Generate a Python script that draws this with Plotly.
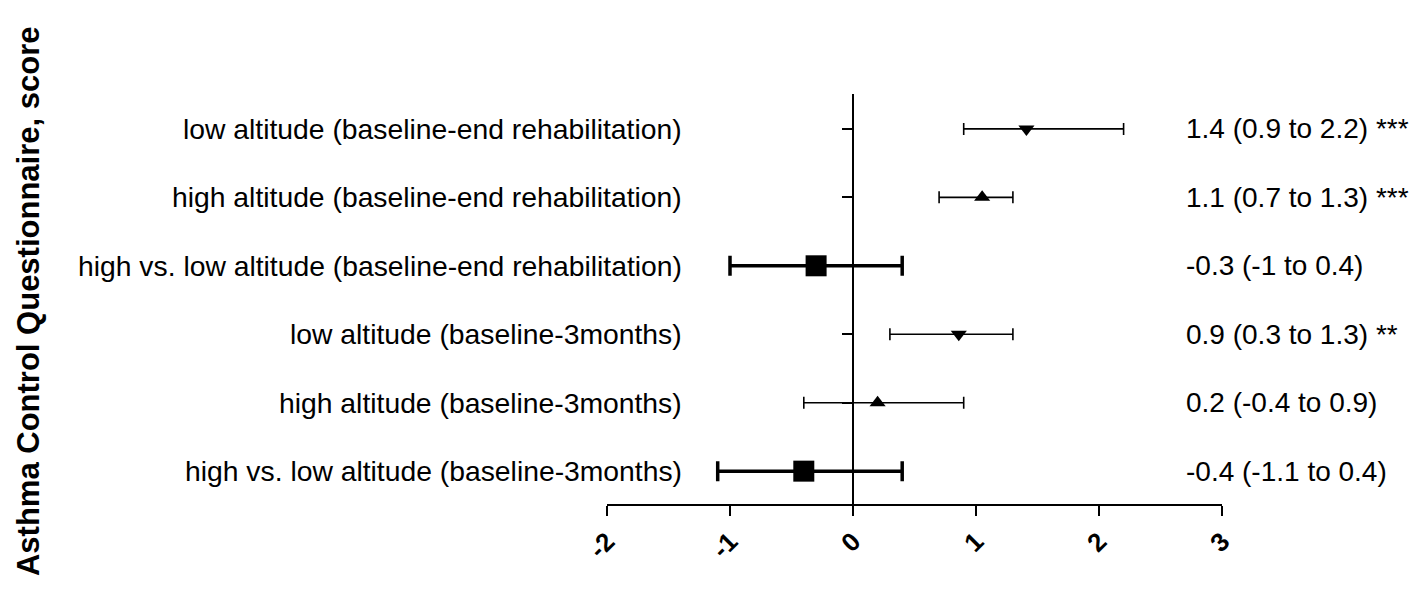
import plotly.graph_objects as go

labels = [
    "low altitude (baseline-end rehabilitation)",
    "high altitude (baseline-end rehabilitation)",
    "high vs. low altitude (baseline-end rehabilitation)",
    "low altitude (baseline-3months)",
    "high altitude (baseline-3months)",
    "high vs. low altitude (baseline-3months)",
]
estimate = [1.41, 1.05, -0.3, 0.86, 0.2, -0.4]
lower = [0.9, 0.7, -1.0, 0.3, -0.4, -1.1]
upper = [2.2, 1.3, 0.4, 1.3, 0.9, 0.4]
result_text = [
    "1.4 (0.9 to 2.2) ***",
    "1.1 (0.7 to 1.3) ***",
    "-0.3 (-1 to 0.4)",
    "0.9 (0.3 to 1.3) **",
    "0.2 (-0.4 to 0.9)",
    "-0.4 (-1.1 to 0.4)",
]
kind = ["low", "high", "diff", "low", "high", "diff"]
row_pos = [6, 5, 4, 3, 2, 1]
x_ticks = [-2, -1, 0, 1, 2, 3]

FONT = "Liberation Sans, Arial, sans-serif"
styles = {
    "low": dict(symbol="triangle-down", size=14, lw=1.6, cap=6),
    "high": dict(symbol="triangle-up", size=14, lw=1.6, cap=6),
    "diff": dict(symbol="square", size=21, lw=3.5, cap=10),
}

fig = go.Figure()
for i in range(len(labels)):
    s = styles[kind[i]]
    fig.add_trace(go.Scatter(
        x=[estimate[i]], y=[row_pos[i]], mode="markers",
        marker=dict(symbol=s["symbol"], size=s["size"], color="black", line=dict(width=0)),
        error_x=dict(type="data", symmetric=False,
                     array=[upper[i] - estimate[i]], arrayminus=[estimate[i] - lower[i]],
                     color="black", thickness=s["lw"], width=s["cap"]),
        showlegend=False, hoverinfo="skip",
    ))

for i in range(len(labels)):
    fig.add_annotation(x=-1.37, y=row_pos[i], xref="x", yref="y", text=labels[i],
                       showarrow=False, xanchor="right", yanchor="middle",
                       font=dict(family=FONT, size=28.3, color="black"))
    fig.add_annotation(x=2.695, y=row_pos[i], xref="x", yref="y", text=result_text[i],
                       showarrow=False, xanchor="left", yanchor="middle",
                       font=dict(family=FONT, size=28, color="black"))

fig.add_annotation(x=-0.9415, y=0.495, xref="paper", yref="paper",
                   text="<b>Asthma Control Questionnaire, score</b>", textangle=-90,
                   showarrow=False, xanchor="center", yanchor="middle",
                   font=dict(family=FONT, size=31, color="black"))

fig.update_layout(
    width=1418, height=602,
    margin=dict(l=599, r=204, t=86, b=106),
    paper_bgcolor="white", plot_bgcolor="white",
    xaxis=dict(range=[-2, 3], tickvals=x_ticks,
               ticktext=["<b>%d</b>" % t for t in x_ticks],
               showline=True, linecolor="black", linewidth=2,
               ticks="outside", ticklen=10, tickwidth=2, tickcolor="black",
               tickangle=-45, showgrid=False, zeroline=False,
               tickfont=dict(family=FONT, size=26, color="black")),
    yaxis=dict(range=[0.52, 6.51], anchor="free", position=0.4,
               tickvals=row_pos, showticklabels=False,
               showline=True, linecolor="black", linewidth=2,
               ticks="outside", ticklen=10, tickwidth=2, tickcolor="black",
               showgrid=False, zeroline=False),
)

fig.write_html("out.html")
